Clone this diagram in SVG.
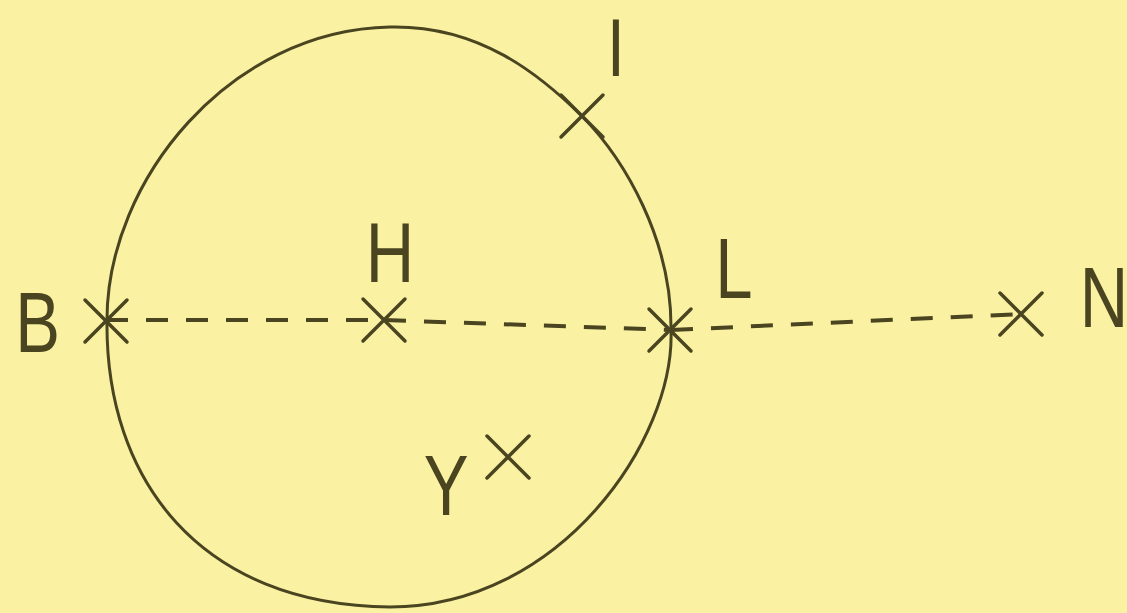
<svg xmlns="http://www.w3.org/2000/svg" width="1127" height="613" viewBox="0 0 1127 613">
<style>
.ink{fill:none;stroke:#4a4520;stroke-linecap:round}
.curve{stroke-width:3}
.x{stroke-width:3.5}
.dash{stroke-width:4;stroke-dasharray:22 18;stroke-linecap:butt}
.lbl{font-family:"Liberation Sans",Arial,sans-serif;font-size:86px;fill:#4a4520;text-anchor:middle}
</style>
<defs>
<path id="cross" d="M-21,-21 L21,21 M-21,21 L21,-21"/>
</defs>
<rect width="1127" height="613" fill="#faf2a2"/>
<g id="boundary">
<path class="ink curve" d="M107,320 C107,180 230,30 390,27 C480,25 540,75 582,116 C625,160 672,240 671,330 C675,440 560,607 390,607 C200,605 105,480 107,320 Z"/>
</g>
<g id="connectors">
<path class="ink dash" d="M106,320 L384,320"/>
<path class="ink dash" d="M384,320 L671,330"/>
<path class="ink dash" d="M671,330 L1021,314"/>
</g>
<g id="node-B">
<use href="#cross" class="ink x" transform="translate(106,321)"/>
<text class="lbl" transform="translate(37.5,352) scale(0.78,1)">B</text>
</g>
<g id="node-H">
<use href="#cross" class="ink x" transform="translate(384,320)"/>
<text class="lbl" transform="translate(390,282) scale(0.78,1)">H</text>
</g>
<g id="node-I">
<use href="#cross" class="ink x" transform="translate(582,116)"/>
<text class="lbl" style="font-size:82px" transform="translate(616,76) scale(0.78,1)">I</text>
</g>
<g id="node-L">
<use href="#cross" class="ink x" transform="translate(670,330)"/>
<text class="lbl" transform="translate(734,298) scale(0.78,1)">L</text>
</g>
<g id="node-N">
<use href="#cross" class="ink x" transform="translate(1021,314)"/>
<text class="lbl" transform="translate(1104,327) scale(0.78,1)">N</text>
</g>
<g id="node-Y">
<use href="#cross" class="ink x" transform="translate(508,457)"/>
<text class="lbl" transform="translate(446,515) scale(0.78,1)">Y</text>
</g>
</svg>
